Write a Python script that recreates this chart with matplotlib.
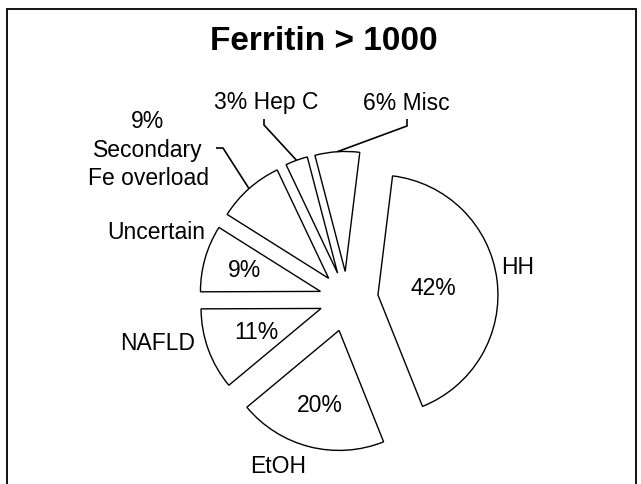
import numpy as np
import matplotlib
matplotlib.use("Agg")
import matplotlib.pyplot as plt
from matplotlib.patches import Rectangle

# ---- Podaci ----
title = "Ferritin > 1000"
causes = ["HH", "EtOH", "NAFLD", "Uncertain", "Secondary\nFe overload", "Hep C", "Misc"]
shares = [42, 20, 11, 9, 9, 3, 6]

# ---- Izgled (pikseli slike 641x485, y prema dolje) ----
W, H = 641, 485
CENTER_PX = (347, 300)
RADIUS = 120
START = 83
explode = [0.26, 0.27, 0.23, 0.23, 0.23, 0.23, 0.23]   # udio radijusa
FONT = "Liberation Sans"


def px(x, y):
    return x, H - y


def wedge_point(w, frac):
    theta = np.deg2rad((w.theta1 + w.theta2) / 2)
    cx, cy = w.center
    return cx + frac * w.r * np.cos(theta), cy + frac * w.r * np.sin(theta)


fig = plt.figure(figsize=(W / 100, H / 100), dpi=100)
ax = fig.add_axes([0, 0, 1, 1])

# pie() pomice isjecke u apsolutnim jedinicama, zato * RADIUS
wedges, _ = ax.pie(shares, explode=[e * RADIUS for e in explode],
                   startangle=START, counterclock=False,
                   center=px(*CENTER_PX), radius=RADIUS,
                   wedgeprops=dict(facecolor="white", edgecolor="black", linewidth=1.0))
ax.set_xlim(0, W)
ax.set_ylim(0, H)
ax.set_aspect("equal")
ax.axis("off")

# okvir slike
fig.patches.append(Rectangle((7 / W, -0.1), (636 - 7) / W, (H - 10) / H + 0.1,
                             transform=fig.transFigure, fill=False,
                             edgecolor="black", linewidth=1.3))

ax.text(*px(324, 42), title, ha="center", va="center", fontsize=24,
        fontweight="bold", family=FONT)

txt = dict(ha="center", va="center", fontsize=16.5, family=FONT)

# postoci unutar isjecaka
inner = {0: 0.47, 1: 0.64, 2: 0.57, 3: 0.66}
for i, frac in inner.items():
    ax.text(*wedge_point(wedges[i], frac), f"{shares[i]}%", **txt)

# vanjske oznake
ax.text(*px(518, 267), causes[0], **txt)
ax.text(*px(278, 467), causes[1], **txt)
ax.text(*px(158, 343), causes[2], **txt)
ax.text(*px(156, 233), causes[3], **txt)
ax.text(*px(148, 150), f"{shares[4]}%\n{causes[4]}", linespacing=1.3, **txt)
ax.text(*px(266, 102), f"{shares[5]}% {causes[5]}", **txt)
ax.text(*px(406, 103), f"{shares[6]}% {causes[6]}", **txt)

# spojne linije
leaders = [
    (4, [(216, 149), (223, 149)]),
    (5, [(264, 120), (264, 126)]),
    (6, [(407, 120), (407, 127)]),
]
for i, pts in leaders:
    xs = [px(*p)[0] for p in pts]
    ys = [px(*p)[1] for p in pts]
    ex, ey = wedge_point(wedges[i], 1.0)
    ax.plot(xs + [ex], ys + [ey], color="black", linewidth=1.2,
            solid_capstyle="butt")

plt.savefig("out.png", dpi=100)
plt.close()
